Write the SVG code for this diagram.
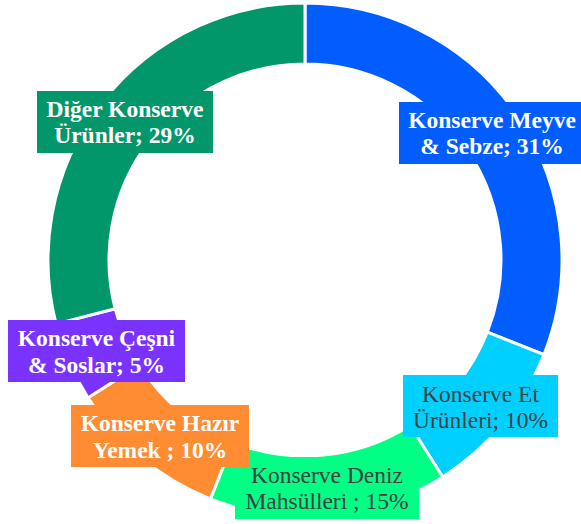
<svg xmlns="http://www.w3.org/2000/svg" width="581" height="524" viewBox="0 0 581 524">
<style>
.slice{stroke:#ffffff;stroke-width:3;stroke-linejoin:miter}
.lb{font-family:"Liberation Serif","Times New Roman",serif;font-size:23.5px;text-anchor:middle}
.w{fill:#ffffff;font-weight:bold}
.d{fill:#404040}
</style>
<rect width="581" height="524" fill="#ffffff"/>
<g id="slices">
<path id="s-meyve" class="slice" fill="#025DFF" d="M305,3 A257,257 0 0 1 543.96,354.60 L487.24,332.15 A196,196 0 0 0 305,64 Z"/>
<path id="s-et" class="slice" fill="#00D0FF" d="M543.96,354.60 A257,257 0 0 1 442.70,476.99 L410.02,425.48 A196,196 0 0 0 487.24,332.15 Z"/>
<path id="s-deniz" class="slice" fill="#00FF85" d="M442.70,476.99 A257,257 0 0 1 210.40,498.96 L232.85,442.24 A196,196 0 0 0 410.02,425.48 Z"/>
<path id="s-hazir" class="slice" fill="#FF8C33" d="M210.40,498.96 A257,257 0 0 1 88.01,397.70 L139.52,365.02 A196,196 0 0 0 232.85,442.24 Z"/>
<path id="s-cesni" class="slice" fill="#7A33FF" d="M88.01,397.70 A257,257 0 0 1 56.07,323.92 L115.15,308.75 A196,196 0 0 0 139.52,365.02 Z"/>
<path id="s-diger" class="slice" fill="#02976A" d="M56.07,323.92 A257,257 0 0 1 305,3 L305,64 A196,196 0 0 0 115.15,308.75 Z"/>
</g>
<g id="label-diger">
<rect x="37" y="91" width="176" height="62" fill="#02976A"/>
<text class="lb w" x="125" y="117">Diğer Konserve</text>
<text class="lb w" x="125" y="143">Ürünler; 29%</text>
</g>
<g id="label-meyve">
<rect x="399" y="102" width="187" height="62" fill="#025DFF"/>
<text class="lb w" x="492" y="128">Konserve Meyve</text>
<text class="lb w" x="492" y="154">&amp; Sebze; 31%</text>
</g>
<g id="label-et">
<rect x="403" y="375" width="155" height="62" fill="#00D0FF"/>
<text class="lb d" x="480.5" y="402">Konserve Et</text>
<text class="lb d" x="480.5" y="428">Ürünleri; 10%</text>
</g>
<g id="label-deniz">
<rect x="235" y="457" width="184" height="62" fill="#00FF85"/>
<text class="lb d" x="327" y="483">Konserve Deniz</text>
<text class="lb d" x="327" y="509">Mahsülleri ; 15%</text>
</g>
<g id="label-hazir">
<rect x="71" y="405" width="178" height="62" fill="#FF8C33"/>
<text class="lb w" x="160" y="431">Konserve Hazır</text>
<text class="lb w" x="160" y="458">Yemek ; 10%</text>
</g>
<g id="label-cesni">
<rect x="8" y="320" width="177" height="62" fill="#7A33FF"/>
<text class="lb w" x="96.5" y="346">Konserve Çeşni</text>
<text class="lb w" x="96.5" y="373">&amp; Soslar; 5%</text>
</g>
</svg>
